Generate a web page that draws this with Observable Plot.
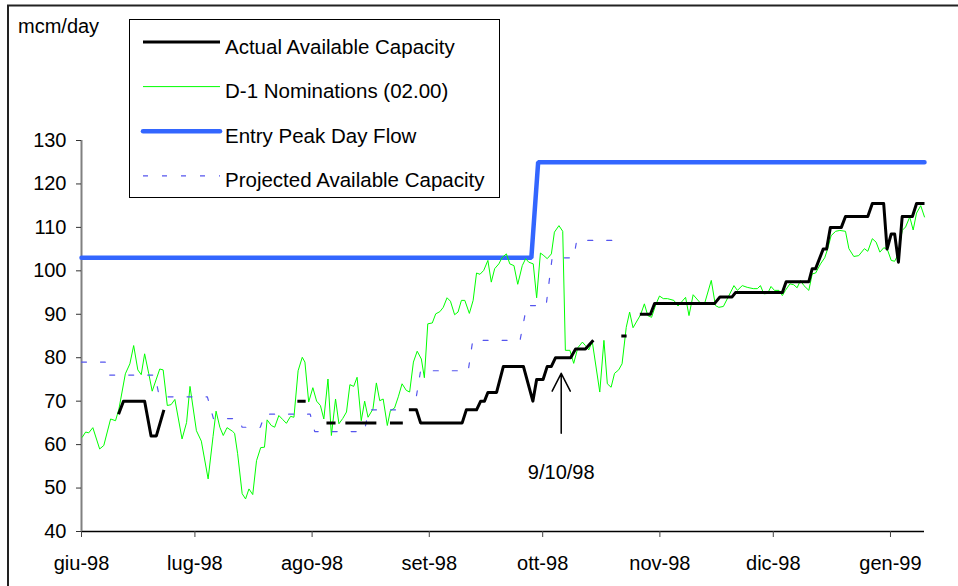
<!DOCTYPE html>
<html>
<head>
<meta charset="utf-8">
<script src="https://cdn.jsdelivr.net/npm/d3@7"></script>
<script src="https://cdn.jsdelivr.net/npm/@observablehq/plot@0.6"></script>
<style>
  html, body { margin: 0; padding: 0; background: white; }
  #chart { width: 958px; height: 586px; overflow: hidden; }
</style>
</head>
<body>
<div id="chart"></div>
<script>
// ---- Data (days are offsets from 1 June 1998) ----
const greenDay = [0.2,1.1,1.9,3.0,4.8,5.9,7.7,9.0,9.9,11.6,12.8,13.8,14.9,15.8,16.7,17.8,18.7,20.7,21.6,22.7,23.7,24.7,26.6,27.8,28.7,30.4,31.7,33.5,34.8,35.6,36.6,37.5,38.5,39.9,40.5,41.3,42.5,43.4,44.3,45.3,46.3,47.4,48.4,49.1,50.2,51.1,52.2,53.2,54.2,55.3,56.2,57.3,58.4,59.1,60.1,61.2,62.2,63.2,64.1,65.2,66.1,67.2,68.1,69.1,70.1,71.0,72.0,72.9,74.0,74.9,75.8,77.1,78.0,78.9,79.8,80.9,81.7,82.8,83.8,84.8,85.9,86.8,87.8,88.8,89.9,90.7,91.6,92.8,93.7,94.8,95.7,96.7,97.6,98.7,99.6,100.5,101.4,102.6,103.6,104.5,105.4,106.4,107.5,108.4,109.3,110.4,111.3,112.4,113.3,114.4,115.4,116.6,117.5,118.3,119.5,120.4,121.4,122.3,123.2,124.3,125.1,126.3,127.3,128.0,129.2,130.2,131.3,132.5,133.3,134.2,135.1,137.1,138.2,139.1,140.1,141.0,142.1,143.0,144.1,145.0,145.9,147.9,148.9,149.8,150.8,151.9,152.9,153.9,155.0,156.7,157.8,159.8,160.7,161.8,163.8,164.8,166.6,167.7,168.6,169.8,172.6,173.5,174.8,176.1,177.7,178.8,179.6,180.5,181.5,182.4,183.3,184.5,185.4,186.2,187.4,188.4,189.3,190.2,191.1,192.4,193.3,194.2,195.5,196.6,197.4,198.3,199.5,200.6,202.1,203.0,204.3,205.6,207.1,208.0,209.2,210.2,211.2,212.2,213.1,214.2,215.1,216.1,217.1,218.0,219.1,220.0,220.9,222.0,223.0];
const greenVal = [61.7,62.9,62.7,63.9,59.0,59.8,65.9,65.5,68.2,76.3,78.6,82.8,77.2,76.1,80.9,76.3,72.3,77.4,77.2,69.0,69.2,70.4,61.3,65.1,73.4,63.2,60.8,52.1,61.9,67.7,64.0,62.1,63.9,63.1,62.6,57.9,48.7,47.5,49.8,48.5,56.3,59.3,59.4,65.7,64.4,64.0,66.7,65.8,64.9,66.5,66.3,77.0,80.1,79.0,69.8,73.1,70.0,69.0,65.9,75.1,62.1,70.5,64.8,66.0,67.5,73.8,73.4,75.5,65.5,70.0,66.3,68.2,74.2,70.1,70.5,64.4,67.8,68.4,71.0,74.0,72.5,72.1,79.0,81.5,79.7,75.4,87.8,88.0,90.1,90.6,91.6,93.8,93.0,89.9,90.5,93.2,93.2,90.2,93.2,99.5,99.2,100.1,102.4,97.4,100.5,101.6,103.1,103.9,101.6,101.2,96.9,101.2,102.8,102.0,101.6,93.8,104.1,103.5,102.8,103.9,108.9,110.4,109.1,81.7,81.7,78.7,82.3,83.6,82.8,81.8,83.8,72.1,84.0,74.0,73.2,76.4,77.2,78.6,87.0,90.5,86.9,89.9,92.4,89.7,89.3,92.2,94.2,93.6,93.6,93.2,91.9,93.9,89.7,94.5,92.5,92.4,97.8,92.0,91.6,91.8,96.6,95.5,96.6,96.2,95.9,95.9,96.6,94.7,94.8,96.4,95.5,95.5,94.3,95.5,97.0,96.8,96.1,97.8,96.6,95.5,99.3,99.5,101.6,103.0,105.1,108.1,109.1,109.3,109.1,105.1,103.3,103.5,105.1,104.5,107.4,106.6,104.3,105.3,105.1,102.4,102.2,103.9,109.3,110.1,112.4,109.4,113.3,115.0,112.4];

// Actual Available Capacity (null = missing, breaks the line)
const blackDay = [9.8,11.1,16.7,18.4,19.8,21.8, 22,
  57.1,59.3, 60,
  64.8,67.2, 68,
  69.8,78.0, 79,
  81.6,85.0, 85.8,
  86.6,88.6,89.7,100.7,101.8,104.5,105.6,106.6,107.5,109.8,111.6,116.9,119.4,120.4,122.1,123.2,124.3,125.4,129.4,130.7,133.3,135.4, 136,
  142.8,144.2, 145,
  147.7,150.5,151.6,167.5,168.9,172.1,173.0,185.4,186.4,192.4,193.3,194.2,196.2,197.1,198.1,201.0,202.1,208.0,209.2,212.2,213.1,214.2,215.1,216.1,217.1,219.8,220.9,223.0];
const blackVal = [67,70,70,62,62,68, null,
  70,70, null,
  65,65, null,
  65,65, null,
  65,65, null,
  68,68,65,65,68,68,70,70,72,72,78,78,70,75,75,78,78,80,80,82,82,84, null,
  85,85, null,
  90,90,92.5,92.5,94,94,95,95,97.5,97.5,100.5,100.5,105,105,110,110,112.5,112.5,115.5,115.5,105,108.5,108.5,102,112.5,112.5,115.5,115.5];

// Entry Peak Day Flow
const peakDay = [0, 119, 120.8, 223];
const peakVal = [103, 103, 125, 125];

// Projected Available Capacity
const projDay = [0,6.3,7.3,19.4,20.6,33.3,34.9,41.5,42.5,47.3,48.5,60.5,61.7,74.8,76,88,89.7,102.3,103.5,116,117.8,122.9,124.5,130.2,131,142.5];
const projVal = [79,79,76,76,71,71,66,66,64,64,67,67,63,63,68,68,77,77,84,84,92,92,103,103,107,107];

const monthTicks = ["1998-06-01","1998-07-01","1998-08-01","1998-09-01","1998-10-01","1998-11-01","1998-12-01","1999-01-01"];
const monthLabels = ["giu-98","lug-98","ago-98","set-98","ott-98","nov-98","dic-98","gen-99"];
const yTicks = [40,50,60,70,80,90,100,110,120,130];

const seriesNames = ["Actual Available Capacity","D-1 Nominations (02.00)","Entry Peak Day Flow","Projected Available Capacity"];
const seriesColors = ["#000000","#00ff00","#3366ff","#5555ee"];

const arrowDay = 126.9, arrowFrom = 62.6, arrowTo = 76.4;
const annLabel = "9/10/98", annY = 53.5;

// ---- Build ----
const start = Date.UTC(1998, 5, 1);
const toDate = d => new Date(start + d * 864e5);
const rows = (days, vals) => days.map((d, i) => ({date: toDate(d), value: vals[i] == null ? NaN : vals[i]}));

const green = rows(greenDay, greenVal);
const black = rows(blackDay, blackVal);
const peak = rows(peakDay, peakVal);
const proj = rows(projDay, projVal);
const tickDates = monthTicks.map(s => new Date(s));
const font = "'Liberation Sans', Arial, sans-serif";

const svgNode = Plot.plot({
  width: 958, height: 586,
  marginLeft: 81, marginRight: 34, marginTop: 140, marginBottom: 55,
  style: {fontFamily: font, fontSize: "20px", color: "black", background: "white", overflow: "visible"},
  x: {type: "utc", domain: [toDate(0), toDate(223)]},
  y: {domain: [40, 130]},
  marks: [
    Plot.ruleY([40], {stroke: "black", strokeWidth: 1.3}),
    Plot.ruleX([toDate(0)], {y1: 40, y2: 130, stroke: "#808080", strokeWidth: 2}),
    Plot.axisY({ticks: yTicks, tickSize: 5, tickPadding: 10, fontSize: 20, stroke: "#333"}),
    Plot.axisX({ticks: tickDates, tickSize: 6, tickPadding: 18, fontSize: 20, stroke: "#444",
      tickFormat: d => monthLabels[tickDates.findIndex(t => +t === +d)]}),
    Plot.line(peak, {x: "date", y: "value", stroke: seriesColors[2], strokeWidth: 4.5, strokeLinecap: "round", strokeLinejoin: "miter"}),
    Plot.line(green, {x: "date", y: "value", stroke: seriesColors[1], strokeWidth: 1}),
    Plot.line(proj, {x: "date", y: "value", stroke: seriesColors[3], strokeWidth: 1.2, strokeDasharray: "5,14"}),
    Plot.line(black, {x: "date", y: "value", stroke: seriesColors[0], strokeWidth: 3, strokeLinecap: "butt"}),
    Plot.arrow([{d: toDate(arrowDay), y1: arrowFrom, y2: arrowTo}], {x1: "d", x2: "d", y1: "y1", y2: "y2", stroke: "black", strokeWidth: 1.5, headAngle: 54, headLength: 23}),
    Plot.text([{d: toDate(arrowDay), y: annY, t: annLabel}], {x: "d", y: "y", text: "t", fontSize: 20, fill: "black"})
  ]
});

const svg = d3.select(svgNode);
// outer frame (top and left edges visible)
svg.append("path").attr("d", "M8,600V5.5H970").attr("fill", "none").attr("stroke", "#222").attr("stroke-width", 2);
// unit label
svg.append("text").attr("x", 18).attr("y", 33).attr("font-size", 20).attr("font-family", font)
  .attr("text-anchor", "start").attr("fill", "black").text("mcm/day");
// legend
const lg = svg.append("g").attr("font-family", font).attr("font-size", 20.5).attr("text-anchor", "start");
lg.append("rect").attr("x", 129.5).attr("y", 19.5).attr("width", 370).attr("height", 178)
  .attr("fill", "white").attr("stroke", "black").attr("stroke-width", 1);
const widths = [3, 1, 4.5, 1.2];
seriesNames.forEach((name, i) => {
  const ly = 42 + i * 44.6;
  const ln = lg.append("line").attr("x1", 143).attr("x2", 220).attr("y1", ly).attr("y2", ly)
    .attr("stroke", seriesColors[i]).attr("stroke-width", widths[i]);
  if (i === 2) ln.attr("stroke-linecap", "round");
  if (i === 3) ln.attr("stroke-dasharray", "5,14");
  lg.append("text").attr("x", 225).attr("y", ly + 11.5).attr("text-anchor", "start").attr("fill", "black").text(name);
});

document.getElementById("chart").appendChild(svgNode);
</script>
</body>
</html>
